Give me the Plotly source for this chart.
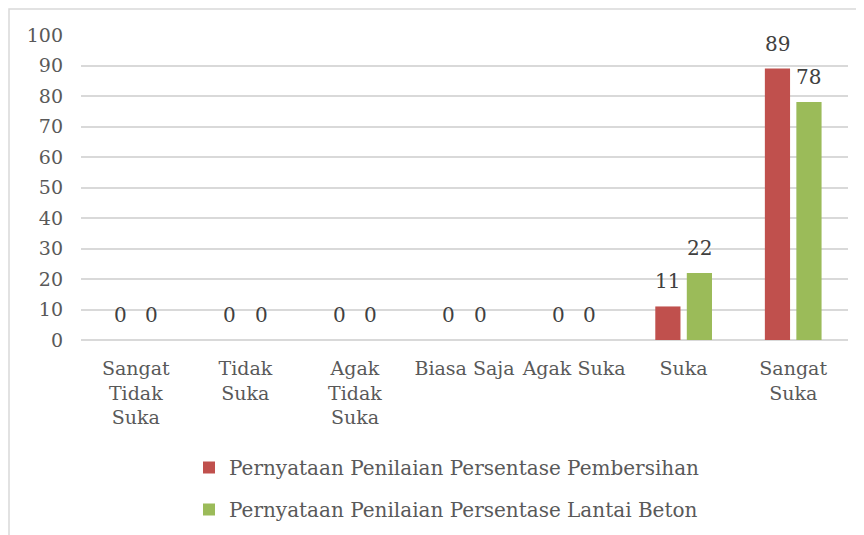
import plotly.graph_objects as go

categories = ["Sangat<br>Tidak<br>Suka", "Tidak<br>Suka", "Agak<br>Tidak<br>Suka",
              "Biasa Saja", "Agak Suka", "Suka", "Sangat<br>Suka"]
pembersihan = [0, 0, 0, 0, 0, 11, 89]
lantai_beton = [0, 0, 0, 0, 0, 22, 78]
series_names = ["Pernyataan Penilaian Persentase Pembersihan",
                "Pernyataan Penilaian Persentase Lantai Beton"]
y_ticks = [0, 10, 20, 30, 40, 50, 60, 70, 80, 90, 100]

FONT = "DejaVu Serif"
TXT = "#595959"
colors = ["#C0504D", "#9BBB59"]

# page body has an 8px margin: figure occupies x 8..864, y 8..535 of the window
W, H = 856, 527
L, R, T, B = 73, 16, 27, 195
PW, PH = W - L - R, H - T - B

fig = go.Figure()
for i, (name, vals) in enumerate(zip(series_names, [pembersihan, lantai_beton])):
    fig.add_trace(go.Bar(x=categories, y=vals, name=name, marker_color=colors[i],
                         marker_line_width=0, legendgroup=str(i)))

offsets = [-15.75, 15.75]
for i, vals in enumerate([pembersihan, lantai_beton]):
    for c, v in zip(categories, vals):
        fig.add_annotation(x=c, y=v, text=str(v), showarrow=False, xshift=offsets[i],
                           yshift=25, yanchor="middle",
                           font=dict(family=FONT, size=20, color="#404040"))

fig.add_shape(type="rect", xref="paper", yref="paper", x0=-(L - 1) / PW, x1=1.2,
              y0=-2, y1=1 + (T - 1) / PH, line=dict(color="#D9D9D9", width=1.5),
              fillcolor="rgba(0,0,0,0)", layer="below")

fig.update_layout(
    width=W, height=H,
    margin=dict(l=L, r=R, t=T, b=B, autoexpand=False),
    paper_bgcolor="white", plot_bgcolor="white",
    font=dict(family=FONT, size=19, color=TXT),
    barmode="group", bargap=0.425, bargroupgap=0.2,
    showlegend=True,
    legend=dict(orientation="v", x=(189 - 81) / PW, y=-(448 - 340) / PH,
                xanchor="left", yanchor="top",
                tracegroupgap=13, font=dict(family=FONT, size=20, color=TXT)),
)
fig.update_yaxes(range=[0, 100], tickvals=y_ticks, showgrid=True, gridcolor="#D9D9D9",
                 gridwidth=1.5, zeroline=True, zerolinecolor="#D9D9D9", zerolinewidth=1.5,
                 ticks="", ticklabelstandoff=17, showline=False, automargin=False,
                 tickfont=dict(size=19))
fig.update_xaxes(showgrid=False, ticks="", ticklabelstandoff=15, showline=False,
                 tickangle=0, automargin=False, tickfont=dict(size=19))

fig.write_html("out.html")
